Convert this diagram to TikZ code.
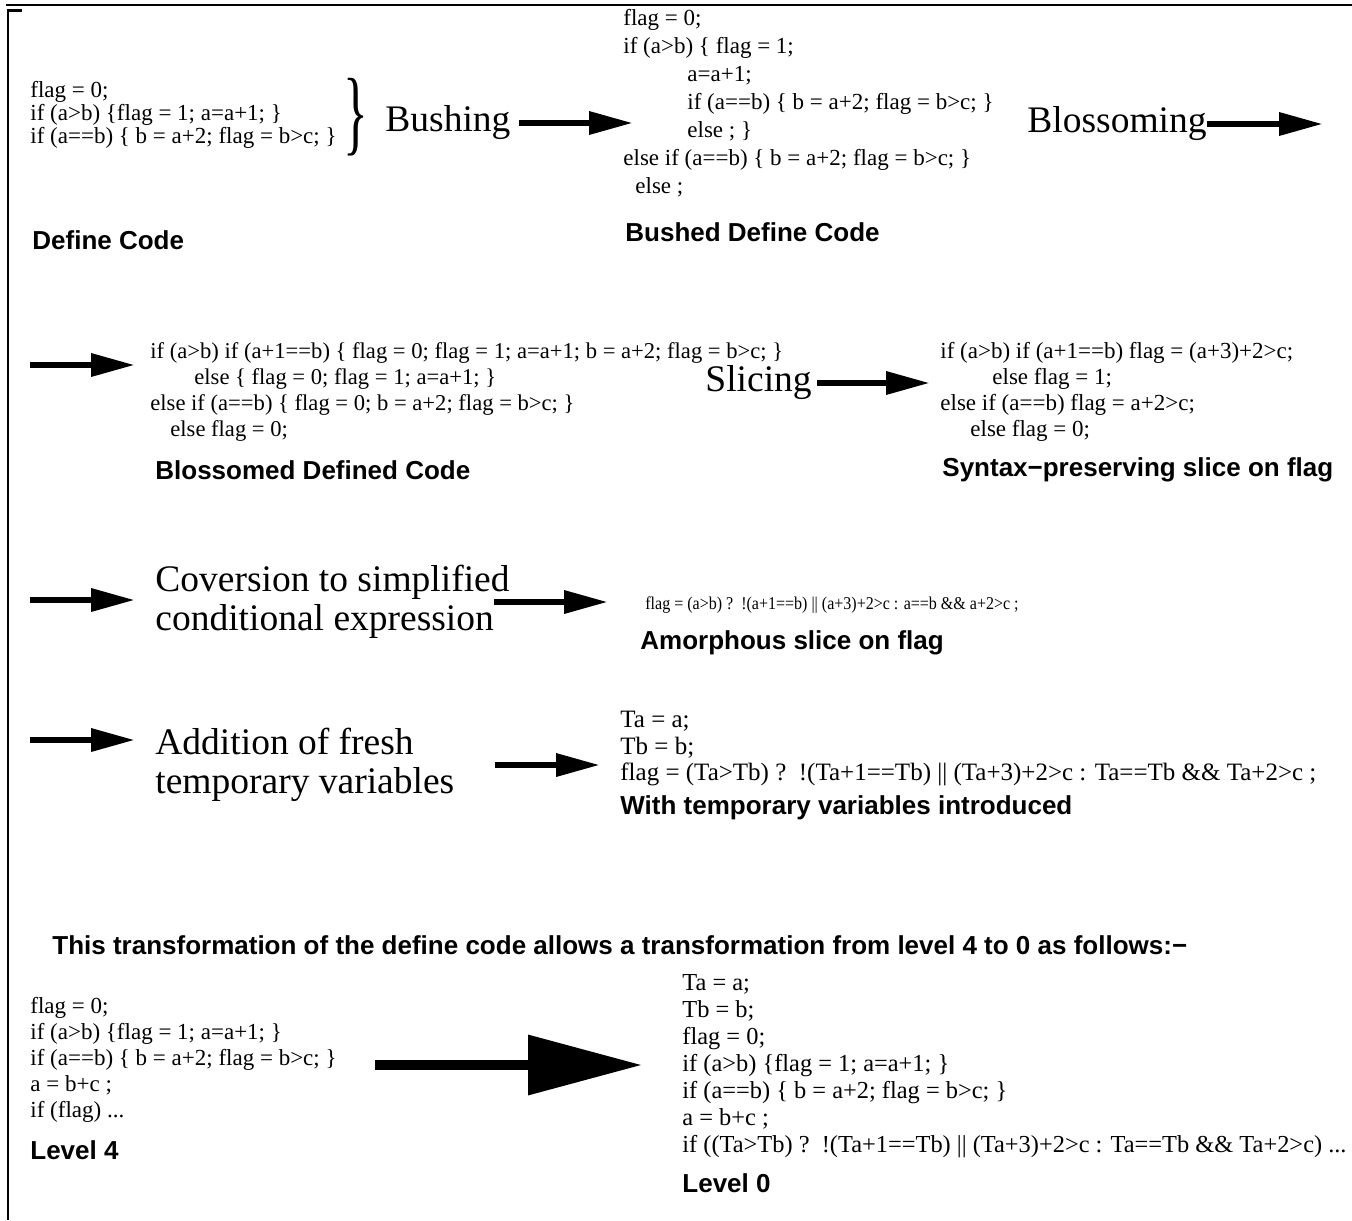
\documentclass[tikz,border=0pt]{standalone}
\usepackage{fontspec}
\setmainfont{Liberation Serif}
\setsansfont{Liberation Sans}
\usetikzlibrary{arrows.meta}

\tikzset{
	code/.style={anchor=north west, align=left, inner sep=0pt},
	caption/.style={anchor=west, inner sep=0pt, font=\sffamily\bfseries\fontsize{13}{15}\selectfont},
	stage/.style={anchor=west, align=left, inner sep=0pt, font=\fontsize{18.75}{19.5}\selectfont},
	flow/.style={line width=3.25pt, -{Triangle[length=22pt,width=11pt]}},
	bigflow/.style={line width=5pt, -{Triangle[length=57pt,width=29pt]}}
}

\begin{document}
\begin{tikzpicture}[x=0.5pt, y=-0.5pt]
			%%%%% FRAME %%%%%
			\useasboundingbox (0,0) rectangle (1352,1220);
			\draw[line width=1.25pt] (6,5) -- (1352,5);
			\draw[line width=1.25pt] (22,10.5) -- (8,10.5) -- (8,1220);
			
			%%%%% ROW 1 %%%%%
			\node[code, font=\fontsize{11.5}{11.5}\selectfont] (defcode) at (30,81) {flag = 0;\\
				if (a>b) \{flag = 1; a=a+1; \}\\
				if (a==b) \{ b = a+2; flag = b>c; \}};
			\node[caption] (defcap) at (32,240) {Define Code};
			\node[inner sep=0pt, font=\fontsize{47}{47}\selectfont, xscale=0.55] (brace) at (356,117) {\}};
			
			\node[stage] (bush) at (385,123) {Bushing};
			\coordinate (bushtip) at (633,123);
			\draw[flow, shorten <=4pt] (bush.east) -- (bushtip);
			
			\node[code, font=\fontsize{11.5}{14}\selectfont] (bushed) at (623,9) {flag = 0;\\
				if (a>b) \{ flag = 1;\\
				\hspace*{32pt}a=a+1;\\
				\hspace*{32pt}if (a==b) \{ b = a+2; flag = b>c; \}\\
				\hspace*{32pt}else ; \}\\
				else if (a==b) \{ b = a+2; flag = b>c; \}\\
				\hspace*{6pt}else ;};
			\node[caption] (bushcap) at (625,232) {Bushed Define Code};
			
			\node[stage] (bloss) at (1027,124) {Blossoming};
			\coordinate (blosstip) at (1323,124);
			\draw[flow] (bloss.east) -- (blosstip);
			
			%%%%% ROW 2 %%%%%
			\coordinate (r2in) at (30,365);
			\coordinate (r2tip) at (135,365);
			\draw[flow] (r2in) -- (r2tip);
			
			\node[code, font=\fontsize{11.3}{13}\selectfont] (blossed) at (150,342) {if (a>b) if (a+1==b) \{ flag = 0; flag = 1; a=a+1; b = a+2; flag = b>c; \}\\
				\hspace*{22pt}else \{ flag = 0; flag = 1; a=a+1; \}\\
				else if (a==b) \{ flag = 0; b = a+2; flag = b>c; \}\\
				\hspace*{10pt}else flag = 0;};
			\node[caption] (blosscap) at (155,470) {Blossomed Defined Code};
			
			\node[stage] (slice) at (705,383) {Slicing};
			\coordinate (slicetip) at (930,383);
			\draw[flow, shorten <=2.5pt] (slice.east) -- (slicetip);
			
			\node[code, font=\fontsize{11.5}{13}\selectfont] (syntax) at (940,342) {if (a>b) if (a+1==b) flag = (a+3)+2>c;\\
				\hspace*{26pt}else flag = 1;\\
				else if (a==b) flag = a+2>c;\\
				\hspace*{15pt}else flag = 0;};
			\node[caption] (syncap) at (942,470) {Syntax−preserving slice on flag};
			
			%%%%% ROW 3 %%%%%
			\coordinate (r3in) at (30,600);
			\coordinate (r3tip) at (135,600);
			\draw[flow] (r3in) -- (r3tip);
			
			\node[stage] (conv) at (155,602) {Coversion to simplified\\conditional expression};
			\coordinate (convtip) at (608,602);
			\draw[flow] ([xshift=-8pt]conv.east) -- (convtip);
			
			\node[code, anchor=west, font=\fontsize{9}{10}\selectfont, xscale=0.89] (amorph) at (645,605) {flag = (a>b) ?\ \ !(a+1==b) || (a+3)+2>c : a==b \&\& a+2>c ;};
			\node[caption] (amorcap) at (640,643) {Amorphous slice on flag};
			
			%%%%% ROW 4 %%%%%
			\coordinate (r4in) at (30,740);
			\coordinate (r4tip) at (135,740);
			\draw[flow] (r4in) -- (r4tip);
			
			\node[stage] (fresh) at (155,765) {Addition of fresh\\temporary variables};
			\coordinate (freshtip) at (600,765);
			\draw[flow, shorten <=20pt] (fresh.east) -- (freshtip);
			
			\node[code, font=\fontsize{12.5}{13.25}\selectfont] (temps) at (620,711) {Ta = a;\\
				Tb = b;\\
				flag = (Ta>Tb) ?\ \ !(Ta+1==Tb) || (Ta+3)+2>c : Ta==Tb \&\& Ta+2>c ;};
			\node[caption] (tempcap) at (620,808) {With temporary variables introduced};
			
			%%%%% LEVELS %%%%%
			\node[caption] (summary) at (52,945) {This transformation of the define code allows a transformation from level 4 to 0 as follows:−};
			
			\node[code, font=\fontsize{11.5}{13}\selectfont] (lvlfour) at (30,997) {flag = 0;\\
				if (a>b) \{flag = 1; a=a+1; \}\\
				if (a==b) \{ b = a+2; flag = b>c; \}\\
				a = b+c ;\\
				if (flag) ...};
			\node[caption] (fourcap) at (30,1150) {Level 4};
			
			\coordinate (bigtail) at (375,1065);
			\coordinate (bigtip) at (642,1065);
			\draw[bigflow] (bigtail) -- (bigtip);
			
			\node[code, font=\fontsize{12.2}{13.5}\selectfont] (lvlzero) at (682,974) {Ta = a;\\
				Tb = b;\\
				flag = 0;\\
				if (a>b) \{flag = 1; a=a+1; \}\\
				if (a==b) \{ b = a+2; flag = b>c; \}\\
				a = b+c ;\\
				if ((Ta>Tb) ?\ \ !(Ta+1==Tb) || (Ta+3)+2>c : Ta==Tb \&\& Ta+2>c) ...};
			\node[caption] (zerocap) at (682,1183) {Level 0};
			
			%%%%% END %%%%%
\end{tikzpicture}
\end{document}
